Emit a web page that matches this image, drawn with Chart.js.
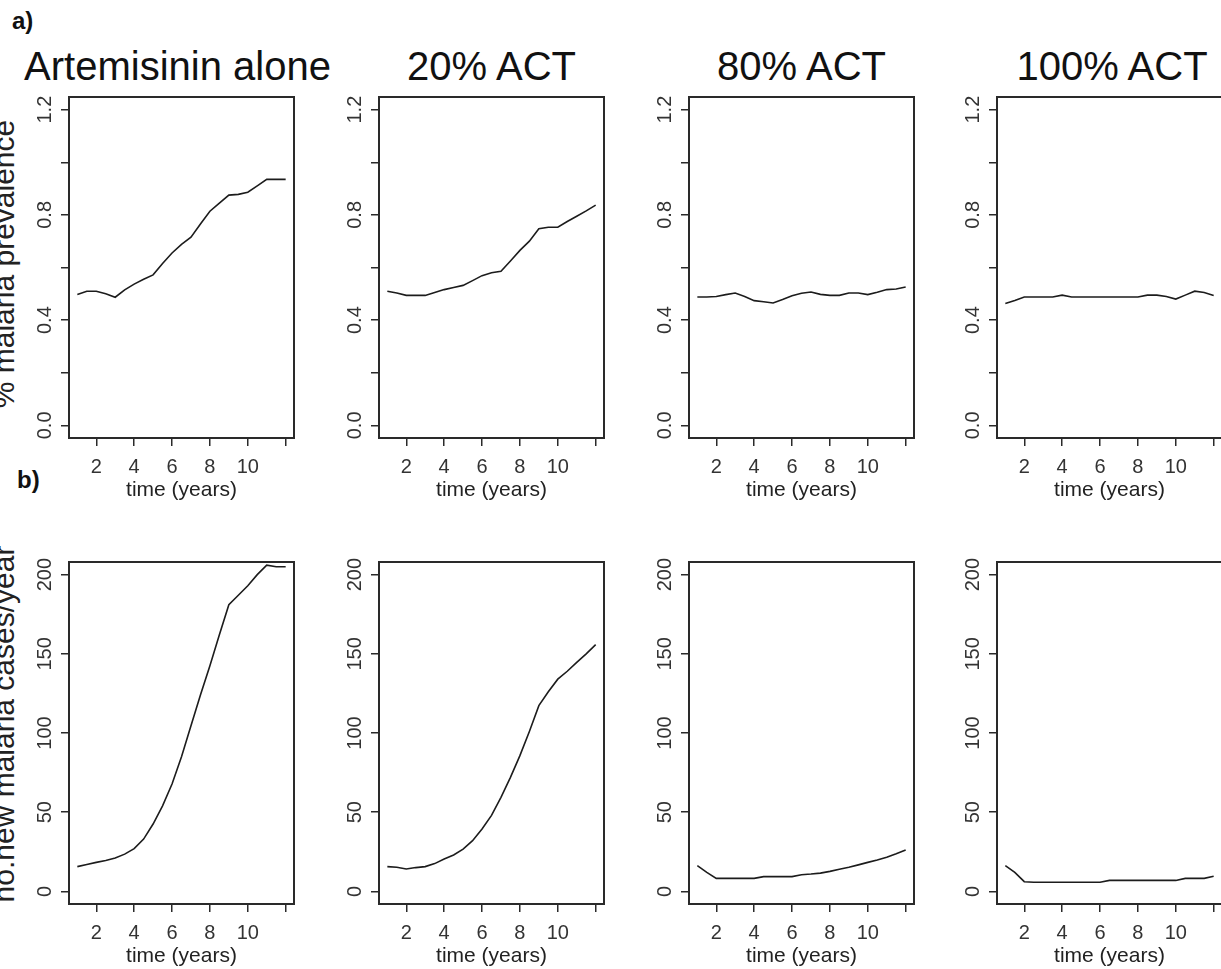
<!DOCTYPE html>
<html><head><meta charset="utf-8">
<script src="https://cdn.jsdelivr.net/npm/chart.js@4.4.1/dist/chart.umd.min.js"></script>
<style>
html,body{margin:0;padding:0;background:#fff;}
body{width:1221px;height:969px;overflow:hidden;position:relative;font-family:'Liberation Sans',Arial,sans-serif;}
.lbl{position:absolute;white-space:nowrap;color:#111;line-height:1;}
.ytitle{position:absolute;white-space:nowrap;color:#222;font-size:30px;height:30px;line-height:30px;width:500px;text-align:center;transform:rotate(-90deg);}
canvas{position:absolute;}
</style></head><body>
<script>
// ---------- data ----------
const times = [1,1.5,2,2.5,3,3.5,4,4.5,5,5.5,6,6.5,7,7.5,8,8.5,9,9.5,10,10.5,11,11.5,12];

const panelTitles = ['Artemisinin alone','20% ACT','80% ACT','100% ACT'];
const rowLetters = ['a)','b)'];
const rowYTitles = ['% malaria prevalence','no.new malaria cases/year'];
const xTitle = 'time (years)';

const xTicks = [2,4,6,8,10,12];
const xTickLabels = ['2','4','6','8','10',''];
const yTicksTop = [0,0.2,0.4,0.6,0.8,1.0,1.2];
const yTickLabelsTop = ['0.0','','0.4','','0.8','','1.2'];
const yTicksBottom = [0,50,100,150,200];
const yTickLabelsBottom = ['0','50','100','150','200'];

// a) % malaria prevalence
const prevArtemisinin = [0.497,0.510,0.510,0.500,0.487,0.515,0.537,0.555,0.572,0.615,0.655,0.688,0.715,0.765,0.814,0.845,0.875,0.878,0.886,0.910,0.935,0.935,0.935];
const prevAct20       = [0.510,0.503,0.494,0.494,0.494,0.505,0.516,0.524,0.532,0.550,0.569,0.580,0.586,0.625,0.665,0.700,0.747,0.753,0.753,0.775,0.795,0.815,0.837];
const prevAct80       = [0.488,0.488,0.490,0.497,0.503,0.490,0.474,0.470,0.465,0.478,0.493,0.502,0.507,0.498,0.494,0.494,0.503,0.503,0.497,0.506,0.516,0.518,0.526];
const prevAct100      = [0.463,0.475,0.488,0.488,0.488,0.488,0.495,0.488,0.488,0.488,0.488,0.488,0.488,0.488,0.488,0.495,0.495,0.490,0.480,0.495,0.510,0.505,0.494];

// b) no. new malaria cases / year
const casesArtemisinin = [15.6,17.0,18.3,19.5,21.0,23.5,27.0,33.0,42.5,54.0,67.8,85.0,104.6,124.0,142.5,162.0,181.0,187.0,193.0,200.0,206.0,205.0,205.0];
const casesAct20       = [15.6,15.2,14.1,15.0,15.6,17.5,20.4,23.0,26.7,32.0,39.4,48.0,59.4,72.0,85.7,101.0,117.3,126.0,134.0,139.0,144.6,150.0,155.8];
const casesAct80       = [16.2,12.0,8.2,8.2,8.2,8.2,8.2,9.3,9.3,9.3,9.3,10.5,10.9,11.5,12.6,14.0,15.2,16.7,18.3,19.8,21.5,23.7,26.1];
const casesAct100      = [16.2,12.0,6.1,5.7,5.7,5.7,5.7,5.7,5.7,5.7,5.7,6.9,6.9,6.9,6.9,6.9,6.9,6.9,6.9,8.2,8.2,8.2,9.5];

const rows = [
  {series:[prevArtemisinin,prevAct20,prevAct80,prevAct100], yMin:-0.048, yMax:1.248, ticks:yTicksTop, labels:yTickLabelsTop},
  {series:[casesArtemisinin,casesAct20,casesAct80,casesAct100], yMin:-8, yMax:208, ticks:yTicksBottom, labels:yTickLabelsBottom}
];
const xMin = 0.56, xMax = 12.44;

// ---------- layout ----------
const boxLefts = [69, 379, 689, 997];
const boxW = 225;
const rowTops = [97, 562];
const rowHeights = [341, 342];
const AXW = 60, AXH = 70, PADT = 4, PADR = 4;
const FONT = "'Liberation Sans', Arial, sans-serif";

function addLabel(text, left, top, size, bold, extra){
  const d = document.createElement('div');
  d.className = 'lbl';
  d.textContent = text;
  d.style.left = left + 'px';
  d.style.top = top + 'px';
  d.style.fontSize = size + 'px';
  if (bold) d.style.fontWeight = 'bold';
  if (extra) Object.assign(d.style, extra);
  document.body.appendChild(d);
  return d;
}

// row letters
addLabel(rowLetters[0], 12, 29 - 0.8465*24, 24, true);
addLabel(rowLetters[1], 17, 488 - 0.8465*24, 24, true);

// panel titles
const titleCenters = [177.5, 491.5, 801.5, 1112];
panelTitles.forEach((t,i)=>{
  addLabel(t, titleCenters[i]-250, 80 - 0.8465*40, 40, false, {width:'500px', textAlign:'center', color:'#111'});
});

// y titles
const yTitleCenters = [264, 724];
rowYTitles.forEach((t,r)=>{
  const d = document.createElement('div');
  d.className = 'ytitle';
  d.textContent = t;
  d.style.left = (4.4 - 250) + 'px';
  d.style.top = (yTitleCenters[r] - 15) + 'px';
  document.body.appendChild(d);
});

const framePlugin = {
  id:'frame',
  afterDatasetsDraw(chart){
    const {ctx, chartArea:a} = chart;
    ctx.save();
    ctx.strokeStyle = '#2a2a2a';
    ctx.lineWidth = 2;
    ctx.strokeRect(a.left, a.top, a.right - a.left, a.bottom - a.top);
    ctx.restore();
  }
};

function fixAxis(size, isX){
  return function(scale){
    if (isX) scale.height = size; else scale.width = size;
    scale.paddingTop = 0; scale.paddingBottom = 0;
    scale.paddingLeft = 0; scale.paddingRight = 0;
  };
}

rows.forEach((row, r)=>{
  row.series.forEach((vals, c)=>{
    const cv = document.createElement('canvas');
    const w = AXW + boxW + PADR;
    const h = PADT + rowHeights[r] + AXH;
    cv.width = w; cv.height = h;
    cv.style.width = w + 'px'; cv.style.height = h + 'px';
    cv.style.left = (boxLefts[c] - AXW) + 'px';
    cv.style.top = (rowTops[r] - PADT) + 'px';
    document.body.appendChild(cv);
    const yPad = r === 0 ? 1.6 : -1.2;
    new Chart(cv.getContext('2d'), {
      type:'line',
      data:{datasets:[{
        data: times.map((t,i)=>({x:t, y:vals[i]})),
        borderColor:'#1c1c1c', borderWidth:1.6, pointRadius:0, tension:0, fill:false
      }]},
      options:{
        responsive:false, animation:false, devicePixelRatio:1,
        layout:{padding:{top:PADT, right:PADR, left:0, bottom:0}},
        plugins:{legend:{display:false}, tooltip:{enabled:false}, title:{display:false}},
        scales:{
          x:{
            type:'linear', min:xMin, max:xMax,
            afterBuildTicks: s => { s.ticks = xTicks.map(v=>({value:v})); },
            afterFit: fixAxis(AXH, true),
            border:{display:false},
            grid:{display:true, drawOnChartArea:false, drawTicks:true, tickLength:8, color:'#2a2a2a', lineWidth:1.5},
            ticks:{autoSkip:false, maxRotation:0, minRotation:0, padding:9, color:'#333',
                   font:{family:FONT, size:20},
                   callback:(v, i)=> xTickLabels[i]},
            title:{display:true, text:xTitle, color:'#222', font:{family:FONT, size:21}, padding:{top:0, bottom:5.5}}
          },
          y:{
            type:'linear', min:row.yMin, max:row.yMax,
            afterBuildTicks: s => { s.ticks = row.ticks.map(v=>({value:v})); },
            afterFit: fixAxis(AXW, false),
            border:{display:false},
            grid:{display:true, drawOnChartArea:false, drawTicks:true, tickLength:8, color:'#2a2a2a', lineWidth:1.5},
            ticks:{autoSkip:false, minRotation:90, maxRotation:90, crossAlign:'center', padding:yPad, color:'#333',
                   font:{family:FONT, size:20},
                   callback:(v, i)=> row.labels[i]}
          }
        }
      },
      plugins:[framePlugin]
    });
  });
});
</script>
</body></html>
